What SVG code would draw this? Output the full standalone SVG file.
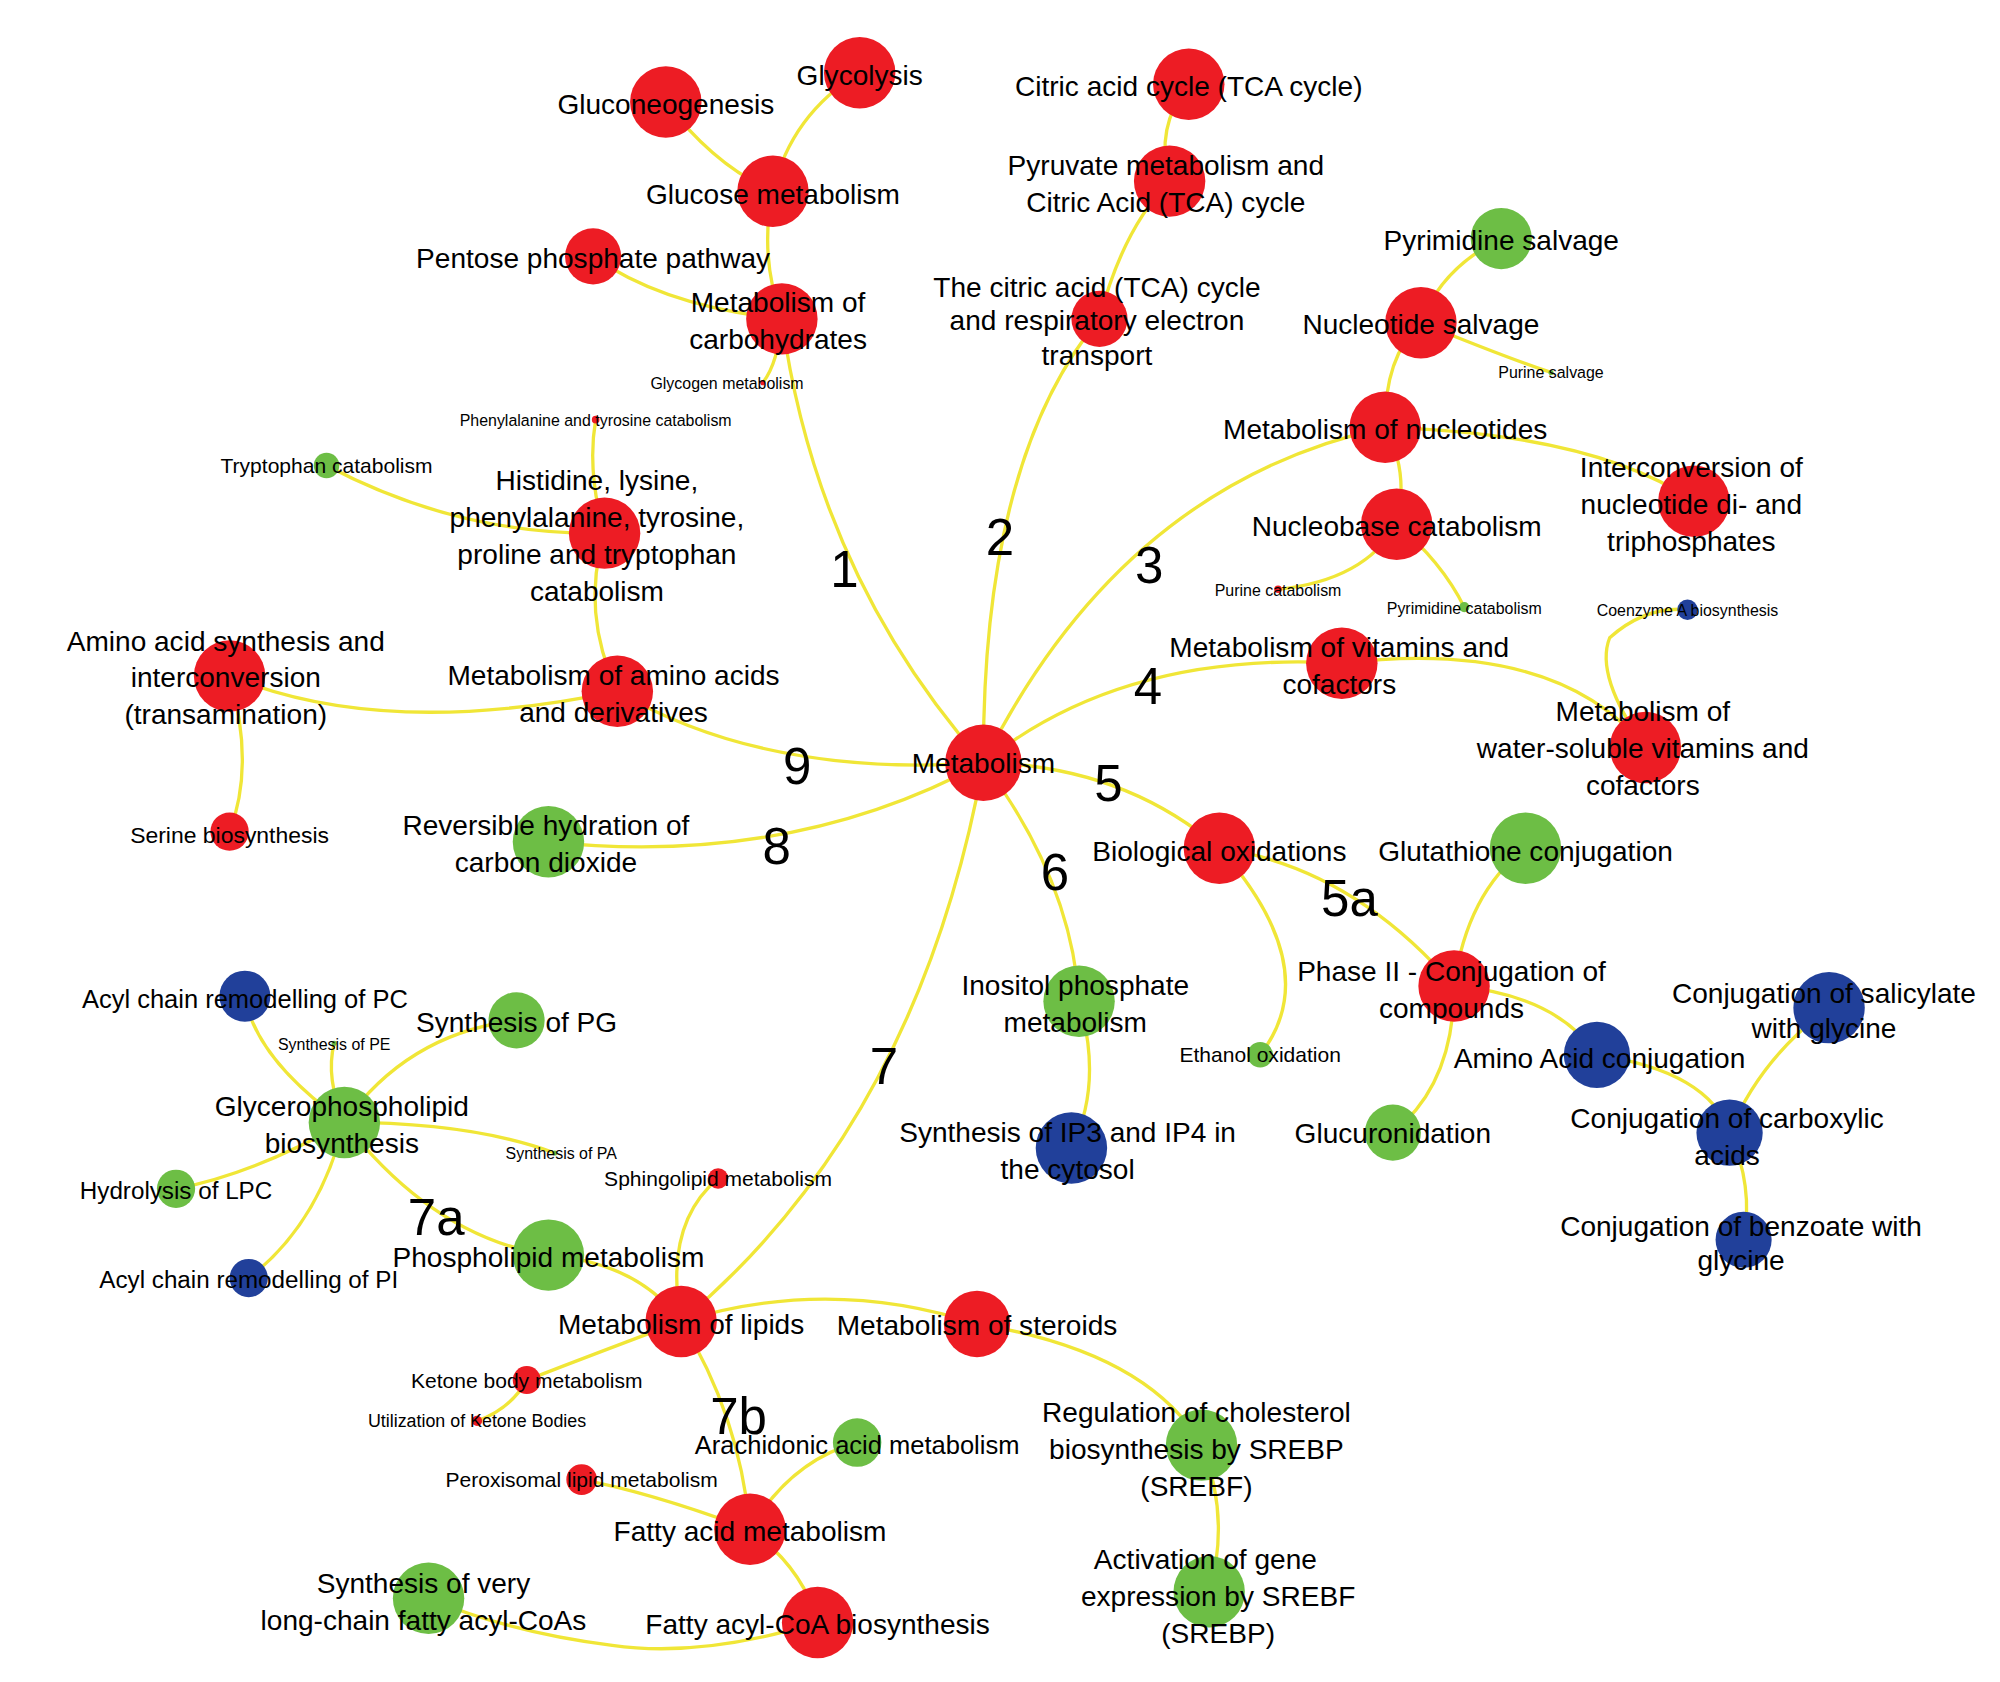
<svg xmlns="http://www.w3.org/2000/svg" width="2000" height="1682" viewBox="0 0 2000 1682">
<style>
.e{fill:none;stroke:#f0e637;stroke-width:2.6}
.r{fill:#ed1c24}.g{fill:#6dbe45}.b{fill:#21409a}
text{font-family:"Liberation Sans",Arial,sans-serif;fill:#000;text-anchor:middle}
.l{font-size:22px}.s{font-size:12.5px}.n{font-size:40px}.m{font-size:16.5px}
</style>
<rect width="2000" height="1682" fill="#fff"/>
<g transform="scale(1.2755)">
<g id="connectors">
<path class="e" d="M771,598 Q640,450 613,250"/>
<path class="e" d="M613,250 Q595,200 606,150"/>
<path class="e" d="M606,150 Q560,130 522,80"/>
<path class="e" d="M606,150 Q620,90 674,57"/>
<path class="e" d="M613,250 Q520,240 465,201"/>
<path class="e" d="M613,250 Q610,285 598,300"/>
<path class="e" d="M771,598 Q770,360 862,250"/>
<path class="e" d="M862,250 Q880,180 917,142"/>
<path class="e" d="M917,142 Q905,100 932,66"/>
<path class="e" d="M771,598 Q880,380 1086,335"/>
<path class="e" d="M1086,335 Q1085,280 1114,253"/>
<path class="e" d="M1114,253 Q1130,210 1177,187"/>
<path class="e" d="M1114,253 Q1180,280 1216,292"/>
<path class="e" d="M1086,335 Q1250,340 1328,393"/>
<path class="e" d="M1086,335 Q1105,370 1095,411"/>
<path class="e" d="M1095,411 Q1070,455 1002,462"/>
<path class="e" d="M1095,411 Q1130,440 1148,476"/>
<path class="e" d="M771,598 Q880,510 1052,520"/>
<path class="e" d="M1052,520 Q1220,500 1290,586"/>
<path class="e" d="M1290,586 Q1250,530 1262,500 Q1290,475 1323,478"/>
<path class="e" d="M771,598 Q880,600 956,665"/>
<path class="e" d="M956,665 Q1060,680 1140,773"/>
<path class="e" d="M956,665 Q1040,760 988,827"/>
<path class="e" d="M1140,773 Q1150,700 1196,665"/>
<path class="e" d="M1140,773 Q1220,780 1252,827"/>
<path class="e" d="M1140,773 Q1140,850 1092,888"/>
<path class="e" d="M1252,827 Q1340,840 1356,888"/>
<path class="e" d="M1356,888 Q1380,830 1434,790"/>
<path class="e" d="M1356,888 Q1375,930 1367,972"/>
<path class="e" d="M771,598 Q840,690 846,785"/>
<path class="e" d="M846,785 Q865,850 840,900"/>
<path class="e" d="M771,598 Q720,880 534,1036"/>
<path class="e" d="M534,1036 Q650,1000 766,1038"/>
<path class="e" d="M766,1038 Q900,1060 942,1133"/>
<path class="e" d="M942,1133 Q965,1190 948,1248"/>
<path class="e" d="M534,1036 Q520,960 563,924"/>
<path class="e" d="M534,1036 Q500,990 430,984"/>
<path class="e" d="M430,984 Q340,970 270,880"/>
<path class="e" d="M270,880 Q200,830 192,781"/>
<path class="e" d="M270,880 Q320,810 405,800"/>
<path class="e" d="M270,880 Q255,845 262,818"/>
<path class="e" d="M270,880 Q370,880 435,904"/>
<path class="e" d="M270,880 Q200,920 138,932"/>
<path class="e" d="M270,880 Q250,960 195,1002"/>
<path class="e" d="M534,1036 Q470,1060 413,1082"/>
<path class="e" d="M413,1082 Q400,1105 374,1114"/>
<path class="e" d="M534,1036 Q580,1110 588,1199"/>
<path class="e" d="M588,1199 Q620,1145 672,1131"/>
<path class="e" d="M588,1199 Q510,1170 456,1160"/>
<path class="e" d="M588,1199 Q630,1230 641,1272"/>
<path class="e" d="M641,1272 Q550,1300 480,1290 Q400,1280 336,1253"/>
<path class="e" d="M771,598 Q620,680 430,660"/>
<path class="e" d="M771,598 Q600,610 484,542"/>
<path class="e" d="M484,542 Q300,580 180,530"/>
<path class="e" d="M180,530 Q200,600 180,652"/>
<path class="e" d="M484,542 Q455,480 474,418"/>
<path class="e" d="M474,418 Q360,420 256,365"/>
<path class="e" d="M474,418 Q460,370 467,329"/>
</g>
<g id="nodes">
<g id="n-metabolism"><circle class="r" cx="771" cy="598" r="30"/><text class="l" x="771" y="606">Metabolism</text></g>
<g id="n-carb"><circle class="r" cx="613" cy="250" r="28"/><text class="l" x="610" y="245">Metabolism of</text><text class="l" x="610" y="274">carbohydrates</text></g>
<g id="n-glucose"><circle class="r" cx="606" cy="150" r="28"/><text class="l" x="606" y="160">Glucose metabolism</text></g>
<g id="n-gluconeo"><circle class="r" cx="522" cy="80" r="28"/><text class="l" x="522" y="89">Gluconeogenesis</text></g>
<g id="n-glycolysis"><circle class="r" cx="674" cy="57" r="28"/><text class="l" x="674" y="67">Glycolysis</text></g>
<g id="n-pentose"><circle class="r" cx="465" cy="201" r="22"/><text class="l" x="465" y="210">Pentose phosphate pathway</text></g>
<g id="n-glycogen"><circle class="r" cx="598" cy="300" r="2"/><text class="s" x="570" y="305">Glycogen metabolism</text></g>
<g id="n-citric"><circle class="r" cx="932" cy="66" r="28"/><text class="l" x="932" y="75">Citric acid cycle (TCA cycle)</text></g>
<g id="n-pyruvate"><circle class="r" cx="917" cy="142" r="28"/><text class="l" x="914" y="137">Pyruvate metabolism and</text><text class="l" x="914" y="166">Citric Acid (TCA) cycle</text></g>
<g id="n-tca"><circle class="r" cx="862" cy="250" r="22"/><text class="l" x="860" y="233">The citric acid (TCA) cycle</text><text class="l" x="860" y="259">and respiratory electron</text><text class="l" x="860" y="286">transport</text></g>
<g id="n-pyrsalv"><circle class="g" cx="1177" cy="187" r="24"/><text class="l" x="1177" y="196">Pyrimidine salvage</text></g>
<g id="n-nucsalv"><circle class="r" cx="1114" cy="253" r="28"/><text class="l" x="1114" y="262">Nucleotide salvage</text></g>
<g id="n-pursalv"><circle class="g" cx="1216" cy="292" r="2"/><text class="s" x="1216" y="296">Purine salvage</text></g>
<g id="n-nucleotides"><circle class="r" cx="1086" cy="335" r="28"/><text class="l" x="1086" y="344">Metabolism of nucleotides</text></g>
<g id="n-interconv"><circle class="r" cx="1328" cy="393" r="28"/><text class="l" x="1326" y="374">Interconversion of</text><text class="l" x="1326" y="403">nucleotide di- and</text><text class="l" x="1326" y="432">triphosphates</text></g>
<g id="n-nucleobase"><circle class="r" cx="1095" cy="411" r="28"/><text class="l" x="1095" y="420">Nucleobase catabolism</text></g>
<g id="n-purcat"><circle class="r" cx="1002" cy="462" r="3"/><text class="s" x="1002" y="467">Purine catabolism</text></g>
<g id="n-pyrcat"><circle class="g" cx="1148" cy="476" r="4"/><text class="s" x="1148" y="481">Pyrimidine catabolism</text></g>
<g id="n-coa"><circle class="b" cx="1323" cy="478" r="8"/><text class="s" x="1323" y="483">Coenzyme A biosynthesis</text></g>
<g id="n-vitamins"><circle class="r" cx="1052" cy="520" r="28"/><text class="l" x="1050" y="515">Metabolism of vitamins and</text><text class="l" x="1050" y="544">cofactors</text></g>
<g id="n-watersol"><circle class="r" cx="1290" cy="586" r="28"/><text class="l" x="1288" y="565">Metabolism of</text><text class="l" x="1288" y="594">water-soluble vitamins and</text><text class="l" x="1288" y="623">cofactors</text></g>
<g id="n-bioox"><circle class="r" cx="956" cy="665" r="28"/><text class="l" x="956" y="675">Biological oxidations</text></g>
<g id="n-gluta"><circle class="g" cx="1196" cy="665" r="28"/><text class="l" x="1196" y="675">Glutathione conjugation</text></g>
<g id="n-phase2"><circle class="r" cx="1140" cy="773" r="28"/><text class="l" x="1138" y="769">Phase II - Conjugation of</text><text class="l" x="1138" y="798">compounds</text></g>
<g id="n-ethanol"><circle class="g" cx="988" cy="827" r="10"/><text class="m" x="988" y="833">Ethanol oxidation</text></g>
<g id="n-aaconj"><circle class="b" cx="1252" cy="827" r="26"/><text class="l" x="1254" y="837">Amino Acid conjugation</text></g>
<g id="n-salic"><circle class="b" cx="1434" cy="790" r="28"/><text class="l" x="1430" y="786">Conjugation of salicylate</text><text class="l" x="1430" y="814">with glycine</text></g>
<g id="n-carbox"><circle class="b" cx="1356" cy="888" r="26"/><text class="l" x="1354" y="884">Conjugation of carboxylic</text><text class="l" x="1354" y="913">acids</text></g>
<g id="n-benzo"><circle class="b" cx="1367" cy="972" r="22"/><text class="l" x="1365" y="969">Conjugation of benzoate with</text><text class="l" x="1365" y="996">glycine</text></g>
<g id="n-glucur"><circle class="g" cx="1092" cy="888" r="22"/><text class="l" x="1092" y="896">Glucuronidation</text></g>
<g id="n-inositol"><circle class="g" cx="846" cy="785" r="28"/><text class="l" x="843" y="780">Inositol phosphate</text><text class="l" x="843" y="809">metabolism</text></g>
<g id="n-ip3"><circle class="b" cx="840" cy="900" r="28"/><text class="l" x="837" y="895">Synthesis of IP3 and IP4 in</text><text class="l" x="837" y="924">the cytosol</text></g>
<g id="n-lipids"><circle class="r" cx="534" cy="1036" r="28"/><text class="l" x="534" y="1046">Metabolism of lipids</text></g>
<g id="n-steroids"><circle class="r" cx="766" cy="1038" r="26"/><text class="l" x="766" y="1047">Metabolism of steroids</text></g>
<g id="n-cholest"><circle class="g" cx="942" cy="1133" r="28"/><text class="l" x="938" y="1115">Regulation of cholesterol</text><text class="l" x="938" y="1144">biosynthesis by SREBP</text><text class="l" x="938" y="1173">(SREBF)</text></g>
<g id="n-activ"><circle class="g" cx="948" cy="1248" r="28"/><text class="l" x="945" y="1230">Activation of gene</text><text class="l" x="955" y="1259">expression by SREBF</text><text class="l" x="955" y="1288">(SREBP)</text></g>
<g id="n-sphingo"><circle class="r" cx="563" cy="924" r="8"/><text class="m" x="563" y="930">Sphingolipid metabolism</text></g>
<g id="n-phospho"><circle class="g" cx="430" cy="984" r="28"/><text class="l" x="430" y="993">Phospholipid metabolism</text></g>
<g id="n-glycero"><circle class="g" cx="270" cy="880" r="28"/><text class="l" x="268" y="875">Glycerophospholipid</text><text class="l" x="268" y="904">biosynthesis</text></g>
<g id="n-acylpc"><circle class="b" cx="192" cy="781" r="20"/><text class="l" x="192" y="790" style="font-size:20px">Acyl chain remodelling of PC</text></g>
<g id="n-pg"><circle class="g" cx="405" cy="800" r="22"/><text class="l" x="405" y="809">Synthesis of PG</text></g>
<g id="n-pe"><circle class="g" cx="262" cy="818" r="2"/><text class="s" x="262" y="823">Synthesis of PE</text></g>
<g id="n-pa"><circle class="g" cx="435" cy="904" r="2"/><text class="s" x="440" y="909">Synthesis of PA</text></g>
<g id="n-lpc"><circle class="g" cx="138" cy="932" r="15"/><text class="l" x="138" y="940" style="font-size:19px">Hydrolysis of LPC</text></g>
<g id="n-acylpi"><circle class="b" cx="195" cy="1002" r="15"/><text class="l" x="195" y="1010" style="font-size:19px">Acyl chain remodelling of PI</text></g>
<g id="n-ketone"><circle class="r" cx="413" cy="1082" r="11"/><text class="m" x="413" y="1088">Ketone body metabolism</text></g>
<g id="n-utilket"><circle class="r" cx="374" cy="1114" r="4"/><text class="s" x="374" y="1119" style="font-size:14px">Utilization of Ketone Bodies</text></g>
<g id="n-arach"><circle class="g" cx="672" cy="1131" r="19"/><text class="l" x="672" y="1140" style="font-size:20px">Arachidonic acid metabolism</text></g>
<g id="n-perox"><circle class="r" cx="456" cy="1160" r="12"/><text class="m" x="456" y="1166">Peroxisomal lipid metabolism</text></g>
<g id="n-fatty"><circle class="r" cx="588" cy="1199" r="28"/><text class="l" x="588" y="1208">Fatty acid metabolism</text></g>
<g id="n-acylcoa"><circle class="r" cx="641" cy="1272" r="28"/><text class="l" x="641" y="1281">Fatty acyl-CoA biosynthesis</text></g>
<g id="n-vlc"><circle class="g" cx="336" cy="1253" r="28"/><text class="l" x="332" y="1249">Synthesis of very</text><text class="l" x="332" y="1278">long-chain fatty acyl-CoAs</text></g>
<g id="n-revhyd"><circle class="g" cx="430" cy="660" r="28"/><text class="l" x="428" y="655">Reversible hydration of</text><text class="l" x="428" y="684">carbon dioxide</text></g>
<g id="n-amino"><circle class="r" cx="484" cy="542" r="28"/><text class="l" x="481" y="537">Metabolism of amino acids</text><text class="l" x="481" y="566">and derivatives</text></g>
<g id="n-aasynth"><circle class="r" cx="180" cy="530" r="28"/><text class="l" x="177" y="510">Amino acid synthesis and</text><text class="l" x="177" y="539">interconversion</text><text class="l" x="177" y="568">(transamination)</text></g>
<g id="n-serine"><circle class="r" cx="180" cy="652" r="15"/><text class="l" x="180" y="661" style="font-size:18px">Serine biosynthesis</text></g>
<g id="n-histidine"><circle class="r" cx="474" cy="418" r="28"/><text class="l" x="468" y="384">Histidine, lysine,</text><text class="l" x="468" y="413">phenylalanine, tyrosine,</text><text class="l" x="468" y="442">proline and tryptophan</text><text class="l" x="468" y="471">catabolism</text></g>
<g id="n-tryp"><circle class="g" cx="256" cy="365" r="10"/><text class="m" x="256" y="371">Tryptophan catabolism</text></g>
<g id="n-phetyr"><circle class="r" cx="467" cy="329" r="3"/><text class="s" x="467" y="334">Phenylalanine and tyrosine catabolism</text></g>
</g>
<g id="numbers">
<text class="n" x="662" y="460">1</text><text class="n" x="784" y="435">2</text><text class="n" x="901" y="457">3</text>
<text class="n" x="900" y="552">4</text><text class="n" x="869" y="628">5</text><text class="n" x="1058" y="718">5a</text>
<text class="n" x="827" y="698">6</text><text class="n" x="693" y="850">7</text><text class="n" x="342" y="968">7a</text>
<text class="n" x="579" y="1124">7b</text><text class="n" x="609" y="677">8</text><text class="n" x="625" y="615">9</text>
</g>
</g>
</svg>
